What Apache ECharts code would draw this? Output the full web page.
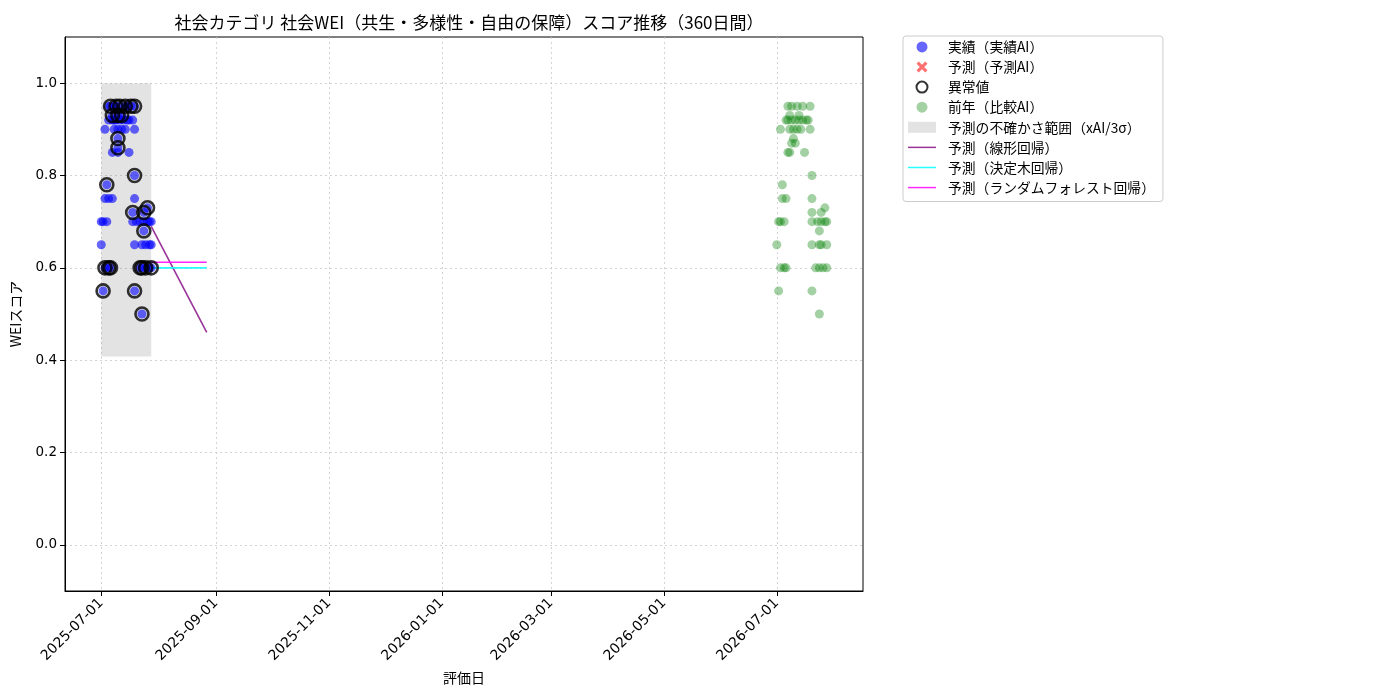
<!DOCTYPE html>
<html>
<head>
<meta charset="utf-8">
<script src="https://cdn.jsdelivr.net/npm/echarts@6/dist/echarts.min.js"></script>
<style>
  html, body { margin: 0; background: #fff; }
  #main { width: 1400px; height: 700px; }
</style>
</head>
<body>
<div id="main"></div>
<script>
var FONT = '"Noto Sans CJK JP", "DejaVu Sans", sans-serif';
var NUM_FONT = '"DejaVu Sans", sans-serif';

// 実績（実績AI）
var actualDates = [
  '2025-07-01', '2025-07-01',
  '2025-07-02', '2025-07-02',
  '2025-07-03', '2025-07-03', '2025-07-03',
  '2025-07-04', '2025-07-04',
  '2025-07-05', '2025-07-05', '2025-07-05', '2025-07-05',
  '2025-07-06', '2025-07-06',
  '2025-07-07', '2025-07-07', '2025-07-07', '2025-07-07',
  '2025-07-08', '2025-07-08', '2025-07-08',
  '2025-07-09', '2025-07-09',
  '2025-07-10', '2025-07-10', '2025-07-10', '2025-07-10', '2025-07-10',
  '2025-07-11', '2025-07-11',
  '2025-07-12', '2025-07-12',
  '2025-07-13',
  '2025-07-14', '2025-07-14',
  '2025-07-15', '2025-07-15',
  '2025-07-16', '2025-07-16',
  '2025-07-17',
  '2025-07-18', '2025-07-18', '2025-07-18',
  '2025-07-19', '2025-07-19', '2025-07-19', '2025-07-19', '2025-07-19', '2025-07-19',
  '2025-07-20',
  '2025-07-22', '2025-07-22',
  '2025-07-23', '2025-07-23', '2025-07-23',
  '2025-07-24', '2025-07-24', '2025-07-24',
  '2025-07-25', '2025-07-25',
  '2025-07-26', '2025-07-26',
  '2025-07-27', '2025-07-27', '2025-07-27',
  '2025-07-28', '2025-07-28', '2025-07-28'
];
var actualValues = [
  0.70, 0.65,
  0.55, 0.70,
  0.60, 0.75, 0.90,
  0.78, 0.70,
  0.60, 0.75, 0.92, 0.95,
  0.95, 0.60,
  0.93, 0.92, 0.85, 0.75,
  0.95, 0.92, 0.90,
  0.95, 0.92,
  0.93, 0.90, 0.88, 0.86, 0.85,
  0.95, 0.92,
  0.93, 0.90,
  0.92,
  0.95, 0.90,
  0.95, 0.92,
  0.85, 0.92,
  0.95,
  0.92, 0.72, 0.70,
  0.95, 0.90, 0.80, 0.75, 0.65, 0.55,
  0.70,
  0.60, 0.70,
  0.65, 0.60, 0.50,
  0.68, 0.72, 0.70,
  0.60, 0.65,
  0.73, 0.70,
  0.70, 0.65, 0.60,
  0.70, 0.60, 0.65
];

// 異常値
var anomalyDates = [
  '2025-07-06', '2025-07-09', '2025-07-11', '2025-07-14', '2025-07-17', '2025-07-19',
  '2025-07-07', '2025-07-10', '2025-07-12',
  '2025-07-10', '2025-07-10',
  '2025-07-19', '2025-07-04', '2025-07-26',
  '2025-07-18', '2025-07-24', '2025-07-24',
  '2025-07-03', '2025-07-05', '2025-07-06', '2025-07-22', '2025-07-23', '2025-07-25', '2025-07-28',
  '2025-07-02', '2025-07-19', '2025-07-23'
];
var anomalyValues = [
  0.95, 0.95, 0.95, 0.95, 0.95, 0.95,
  0.93, 0.93, 0.93,
  0.88, 0.86,
  0.80, 0.78, 0.73,
  0.72, 0.72, 0.68,
  0.60, 0.60, 0.60, 0.60, 0.60, 0.60, 0.60,
  0.55, 0.55, 0.50
];

// 前年（比較AI）
var prevDates = [
  '2026-07-01',
  '2026-07-02', '2026-07-02',
  '2026-07-03', '2026-07-03', '2026-07-03',
  '2026-07-04', '2026-07-04',
  '2026-07-05', '2026-07-05',
  '2026-07-06', '2026-07-06', '2026-07-06',
  '2026-07-07', '2026-07-07', '2026-07-07',
  '2026-07-08', '2026-07-08', '2026-07-08',
  '2026-07-09', '2026-07-09', '2026-07-09',
  '2026-07-10', '2026-07-10',
  '2026-07-11', '2026-07-11',
  '2026-07-12', '2026-07-12',
  '2026-07-13', '2026-07-13',
  '2026-07-14',
  '2026-07-15', '2026-07-15',
  '2026-07-16',
  '2026-07-17',
  '2026-07-18',
  '2026-07-19', '2026-07-19',
  '2026-07-20', '2026-07-20', '2026-07-20', '2026-07-20', '2026-07-20', '2026-07-20',
  '2026-07-22',
  '2026-07-23',
  '2026-07-24', '2026-07-24', '2026-07-24', '2026-07-24',
  '2026-07-25', '2026-07-25', '2026-07-25',
  '2026-07-26',
  '2026-07-27', '2026-07-27',
  '2026-07-28', '2026-07-28', '2026-07-28'
];
var prevValues = [
  0.65,
  0.70, 0.55,
  0.60, 0.70, 0.90,
  0.78, 0.75,
  0.70, 0.60,
  0.92, 0.75, 0.60,
  0.95, 0.85, 0.92,
  0.93, 0.90, 0.85,
  0.95, 0.92, 0.87,
  0.88, 0.90,
  0.87, 0.92,
  0.95, 0.90,
  0.93, 0.92,
  0.90,
  0.95, 0.92,
  0.85,
  0.92,
  0.92,
  0.95, 0.90,
  0.80, 0.75, 0.72, 0.70, 0.65, 0.55,
  0.60,
  0.70,
  0.65, 0.60, 0.50, 0.68,
  0.72, 0.70, 0.65,
  0.60,
  0.73, 0.70,
  0.65, 0.60, 0.70
];

// 予測（回帰）
var forecastDates = ['2025-07-28', '2025-08-27'];
var linearValues = [0.69, 0.46];
var treeValues = [0.60, 0.60];
var forestValues = [0.612, 0.612];

// 予測の不確かさ範囲
var bandDates = ['2025-07-01', '2025-07-28'];
var bandLow = 0.408;
var bandHigh = 1.0;

// 軸
var xTickLabels = ['2025-07-01', '2025-09-01', '2025-11-01', '2026-01-01', '2026-03-01', '2026-05-01', '2026-07-01'];
var yTickValues = [0, 0.2, 0.4, 0.6, 0.8, 1.0];
var xRange = ['2025-06-11 10:00', '2026-08-16 14:00'];

function ts(s) { return echarts.number.parseDate(s).getTime(); }
function pairs(dates, values) {
  return dates.map(function (d, i) { return [ts(d), values[i]]; });
}
var xTickValues = xTickLabels.map(ts);

var LINE_ICON = 'path://M0,0L30,0L30,1.6L0,1.6Z';
var CROSS_ICON = 'path://M2,0L5,3L8,0L10,2L7,5L10,8L8,10L5,7L2,10L0,8L3,5L0,2Z';
var gridLine = { show: true, lineStyle: { color: '#c8c8c8', type: [2, 3], width: 0.8 } };

var myChart = echarts.init(document.getElementById('main'));

var option = {
  animation: false,
  backgroundColor: '#fff',
  textStyle: { fontFamily: FONT },
  title: {
    text: '社会カテゴリ 社会WEI（共生・多様性・自由の保障）スコア推移（360日間）',
    left: 464, top: 9, textAlign: 'center',
    textStyle: { fontFamily: FONT, fontSize: 17, fontWeight: 'normal', color: '#000' }
  },
  grid: {
    left: 65, right: 537, top: 37, bottom: 109,
    show: true, borderColor: '#000', borderWidth: 1
  },
  legend: {
    orient: 'vertical', left: 903, top: 36,
    itemWidth: 28, itemHeight: 11, itemGap: 6.3,
    padding: [4, 8, 7, 5],
    borderColor: '#ccc', borderWidth: 1, borderRadius: 3,
    textStyle: { fontFamily: FONT, fontSize: 13.8, color: '#000', padding: [0, 0, 0, 7] },
    data: [
      { name: '実績（実績AI）', icon: 'circle' },
      { name: '予測（予測AI）', icon: CROSS_ICON },
      { name: '異常値', icon: 'circle' },
      { name: '前年（比較AI）', icon: 'circle' },
      { name: '予測の不確かさ範囲（xAI/3σ）', icon: 'rect' },
      { name: '予測（線形回帰）', icon: LINE_ICON },
      { name: '予測（決定木回帰）', icon: LINE_ICON },
      { name: '予測（ランダムフォレスト回帰）', icon: LINE_ICON }
    ]
  },
  xAxis: {
    type: 'value',
    min: ts(xRange[0]), max: ts(xRange[1]),
    name: '評価日', nameLocation: 'middle', nameGap: 77,
    nameTextStyle: { fontFamily: FONT, fontSize: 14, color: '#000' },
    axisLine: { onZero: false, lineStyle: { color: '#000' } },
    axisTick: { customValues: xTickValues, length: 5, lineStyle: { color: '#000' } },
    axisLabel: {
      customValues: xTickValues, rotate: 45, margin: 10,
      fontFamily: NUM_FONT, fontSize: 14, color: '#000',
      formatter: function (v) {
        var i = xTickValues.indexOf(v);
        return i >= 0 ? xTickLabels[i] : '';
      }
    },
    splitLine: gridLine
  },
  yAxis: {
    type: 'value', min: -0.1, max: 1.1,
    name: 'WEIスコア', nameLocation: 'middle', nameGap: 42,
    nameTextStyle: { fontFamily: FONT, fontSize: 14, color: '#000' },
    axisLine: { show: true, onZero: false, lineStyle: { color: '#000' } },
    axisTick: { show: true, customValues: yTickValues, length: 5, lineStyle: { color: '#000' } },
    axisLabel: {
      customValues: yTickValues, margin: 8,
      fontFamily: NUM_FONT, fontSize: 13.5, color: '#000',
      formatter: function (v) { return v.toFixed(1); }
    },
    splitLine: gridLine
  },
  series: [
    {
      name: '予測の不確かさ範囲（xAI/3σ）',
      type: 'custom',
      z: 1,
      itemStyle: { color: 'rgba(128,128,128,0.22)' },
      encode: { x: [0, 1], y: [2, 3] },
      data: [[ts(bandDates[0]), ts(bandDates[1]), bandLow, bandHigh]],
      renderItem: function (params, api) {
        var p0 = api.coord([api.value(0), api.value(3)]);
        var p1 = api.coord([api.value(1), api.value(2)]);
        return {
          type: 'rect',
          shape: { x: p0[0], y: p0[1], width: p1[0] - p0[0], height: p1[1] - p0[1] },
          style: { fill: 'rgba(128,128,128,0.22)' }
        };
      }
    },
    {
      name: '予測（線形回帰）', type: 'line', z: 2, symbol: 'none',
      lineStyle: { color: 'rgba(128,0,128,0.8)', width: 1.6 },
      itemStyle: { color: 'rgba(128,0,128,0.8)' },
      data: pairs(forecastDates, linearValues)
    },
    {
      name: '予測（決定木回帰）', type: 'line', z: 2, symbol: 'none',
      lineStyle: { color: 'rgba(0,255,255,0.85)', width: 1.6 },
      itemStyle: { color: 'rgba(0,255,255,0.85)' },
      data: pairs(forecastDates, treeValues)
    },
    {
      name: '予測（ランダムフォレスト回帰）', type: 'line', z: 2, symbol: 'none',
      lineStyle: { color: 'rgba(255,0,255,0.85)', width: 1.6 },
      itemStyle: { color: 'rgba(255,0,255,0.85)' },
      data: pairs(forecastDates, forestValues)
    },
    {
      name: '実績（実績AI）', type: 'scatter', z: 3, symbolSize: 9,
      itemStyle: { color: 'rgba(0,0,255,0.75)' },
      data: pairs(actualDates, actualValues)
    },
    {
      name: '予測（予測AI）', type: 'scatter', z: 3, symbolSize: 10,
      symbol: CROSS_ICON,
      itemStyle: { color: 'rgba(255,0,0,0.7)' },
      data: []
    },
    {
      name: '異常値', type: 'scatter', z: 4, symbolSize: 13,
      itemStyle: { color: 'rgba(0,0,0,0)', borderColor: '#000', borderWidth: 2.6 },
      data: pairs(anomalyDates, anomalyValues)
    },
    {
      name: '前年（比較AI）', type: 'scatter', z: 3, symbolSize: 9,
      itemStyle: { color: 'rgba(0,128,0,0.45)' },
      data: pairs(prevDates, prevValues)
    }
  ]
};

myChart.setOption(option);
</script>
</body>
</html>
